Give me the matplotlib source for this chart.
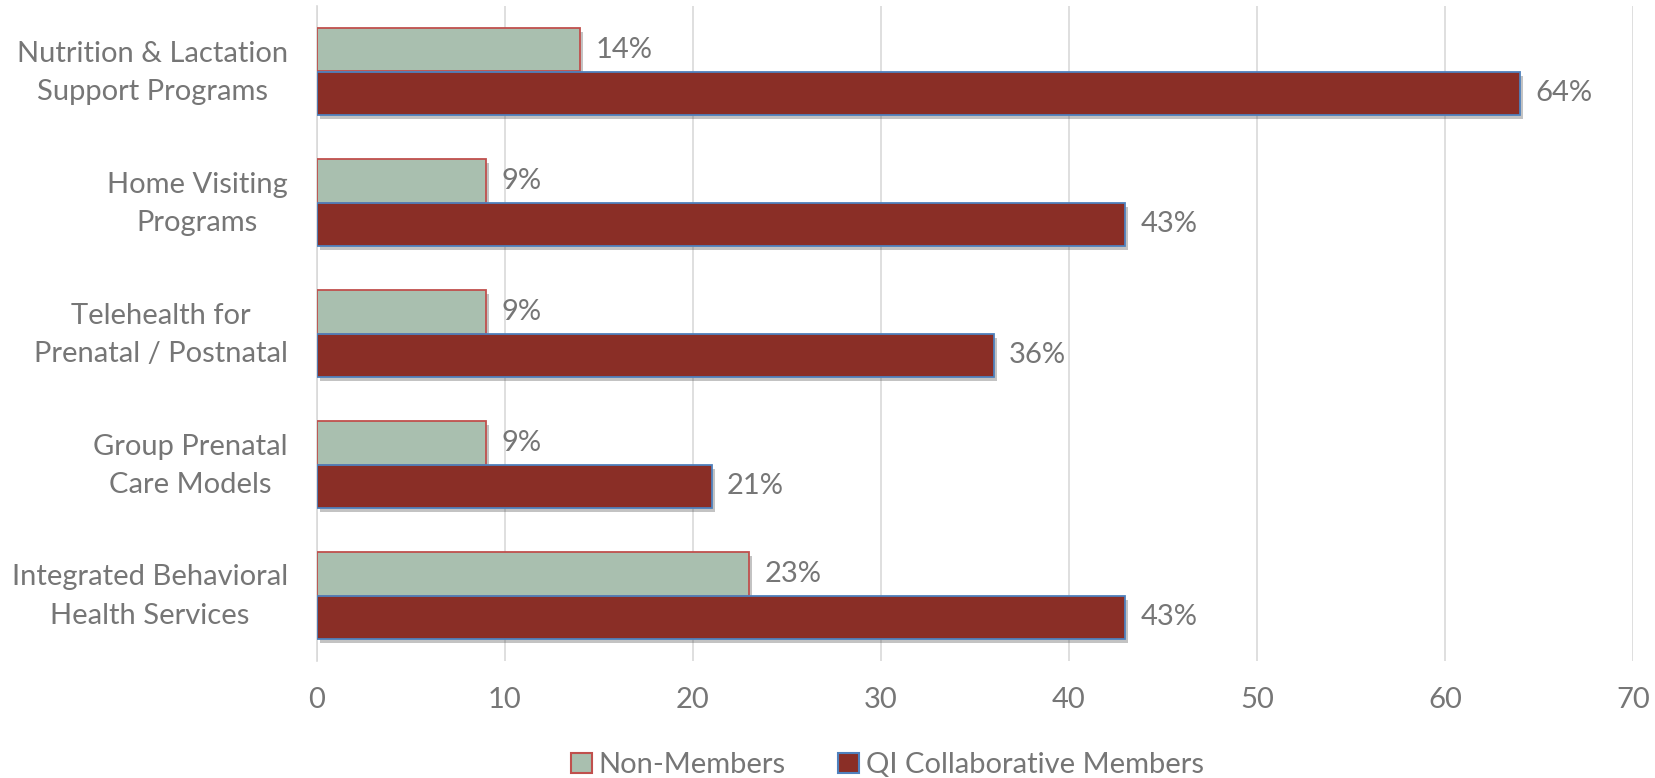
import matplotlib
matplotlib.use("Agg")
import matplotlib.pyplot as plt
import matplotlib.patheffects as pe
from matplotlib.patches import Patch
from matplotlib.transforms import ScaledTranslation
import numpy as np

categories = [
    "Nutrition & Lactation\nSupport Programs",
    "Home Visiting\nPrograms",
    "Telehealth for\nPrenatal / Postnatal",
    "Group Prenatal\nCare Models",
    "Integrated Behavioral\nHealth Services",
]
non_members = [14, 9, 9, 9, 23]
qi_members = [64, 43, 36, 21, 43]
series_names = ["Non-Members", "QI Collaborative Members"]
x_ticks = [0, 10, 20, 30, 40, 50, 60, 70]

plt.rcParams["font.family"] = ["Lato", "DejaVu Sans"]
TEXT = "#767676"
GREEN = "#A9BFAF"
GREEN_EDGE = "#C0504D"
RED = "#8A2E26"
RED_EDGE = "#4F81BD"
FS = 21

fig = plt.figure(figsize=(16.56, 7.78), dpi=100)
ax = fig.add_axes([317 / 1656, 1 - 661 / 778, (1633 - 317) / 1656, (661 - 6) / 778])

y = np.arange(len(categories))
h = 0.33
shadow = [pe.SimplePatchShadow(offset=(2, -3), alpha=0.35, shadow_rgbFace="#555555"), pe.Normal()]

b1 = ax.barh(y - h / 2, non_members, height=h, color=GREEN, edgecolor=GREEN_EDGE,
             linewidth=1.3, zorder=3)
b2 = ax.barh(y + h / 2, qi_members, height=h, color=RED, edgecolor=RED_EDGE,
             linewidth=1.3, zorder=3)
for bars in (b1, b2):
    for p in bars:
        p.set_path_effects(shadow)

for bars, vals in ((b1, non_members), (b2, qi_members)):
    for p, v in zip(bars, vals):
        ax.annotate(f"{v}%", (v, p.get_y() + p.get_height() / 2),
                    xytext=(11, 0), textcoords="offset points",
                    va="center", ha="left", fontsize=FS, color=TEXT, zorder=4)

ax.set_xlim(0, 70)
ax.set_ylim(len(categories) - 0.5, -0.5)
ax.set_xticks(x_ticks)
ax.set_xticklabels([str(t) for t in x_ticks])
ax.set_yticks(y)
ax.set_yticklabels(categories, ha="right", multialignment="center", linespacing=1.6)
ax.tick_params(axis="y", length=0, pad=21, labelsize=FS, labelcolor=TEXT)
ax.tick_params(axis="x", length=0, pad=19, labelsize=FS, labelcolor=TEXT)
# lift the two-line category labels slightly so they sit centred on each bar pair
lift = ScaledTranslation(0, 0.075, fig.dpi_scale_trans)
for lbl in ax.get_yticklabels():
    lbl.set_transform(lbl.get_transform() + lift)

ax.grid(axis="x", color="#D9D9D9", linewidth=1.2, zorder=0)
ax.set_axisbelow(True)
for s in ("top", "right", "bottom"):
    ax.spines[s].set_visible(False)
ax.spines["left"].set_color("#D9D9D9")
ax.spines["left"].set_linewidth(1.2)

handles = [Patch(facecolor=GREEN, edgecolor=GREEN_EDGE, linewidth=1.5, label=series_names[0]),
           Patch(facecolor=RED, edgecolor=RED_EDGE, linewidth=1.5, label=series_names[1])]
fig.legend(handles=handles, loc="center", bbox_to_anchor=(0.536, 1 - 765 / 778), ncol=2,
           frameon=False, fontsize=FS, labelcolor=TEXT, handlelength=0.7, handleheight=0.7,
           handletextpad=0.25, columnspacing=1.8)

fig.savefig("out.png", dpi=100)
